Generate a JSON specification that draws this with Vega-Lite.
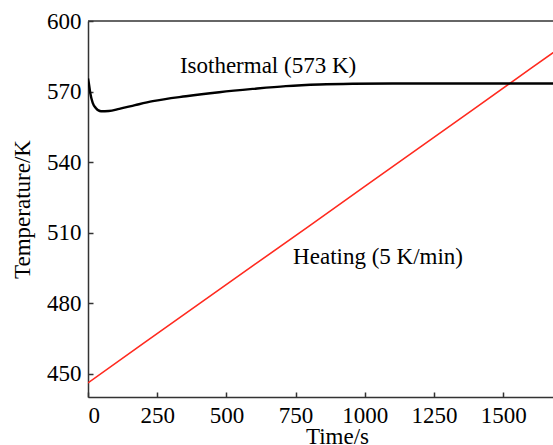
{
  "$schema": "https://vega.github.io/schema/vega-lite/v6.json",
  "width": 465,
  "height": 376,
  "autosize": "none",
  "padding": {"left": 88, "top": 21, "right": 0, "bottom": 48},
  "background": "white",
  "config": {
    "view": {"stroke": null},
    "font": "Liberation Serif",
    "axis": {
      "domainColor": "#333333",
      "domainWidth": 1.5,
      "tickColor": "#333333",
      "tickWidth": 1.5,
      "tickSize": -5,
      "grid": false,
      "labelFont": "Liberation Serif",
      "labelFontSize": 23,
      "labelColor": "black",
      "titleFont": "Liberation Serif",
      "titleFontSize": 23,
      "titleFontWeight": "normal",
      "titleColor": "black"
    }
  },
  "datasets": {
    "iso": [
      {"t": 0, "T": 575.5},
      {"t": 3, "T": 573.5},
      {"t": 8, "T": 569.5},
      {"t": 17, "T": 565.2},
      {"t": 28, "T": 563.0},
      {"t": 47, "T": 561.6},
      {"t": 75, "T": 561.7},
      {"t": 113, "T": 562.6},
      {"t": 170, "T": 564.2},
      {"t": 234, "T": 565.9},
      {"t": 354, "T": 568.0},
      {"t": 474, "T": 569.7},
      {"t": 595, "T": 571.1},
      {"t": 715, "T": 572.3},
      {"t": 836, "T": 573.0},
      {"t": 956, "T": 573.3},
      {"t": 1100, "T": 573.4},
      {"t": 1300, "T": 573.4},
      {"t": 1500, "T": 573.4},
      {"t": 1700, "T": 573.4}
    ],
    "heat": [
      {"t": 0, "T": 446.0},
      {"t": 200, "T": 462.8},
      {"t": 400, "T": 479.5},
      {"t": 600, "T": 496.2},
      {"t": 800, "T": 512.8},
      {"t": 1000, "T": 529.6},
      {"t": 1200, "T": 546.3},
      {"t": 1400, "T": 563.0},
      {"t": 1600, "T": 579.8},
      {"t": 1700, "T": 588.2}
    ],
    "labels": [
      {"t": 332, "T": 577.7, "text": "Isothermal (573 K)"},
      {"t": 741, "T": 496.4, "text": "Heating (5 K/min)"}
    ]
  },
  "layer": [
    {
      "data": {"name": "heat"},
      "mark": {"type": "line", "color": "#ff2a1f", "strokeWidth": 1.6, "clip": true},
      "encoding": {
        "x": {
          "field": "t", "type": "quantitative",
          "scale": {"domain": [0, 1680], "nice": false},
          "axis": {"values": [0, 250, 500, 750, 1000, 1250, 1500], "format": "d", "title": "Time/s", "labelPadding": 12, "titlePadding": -2, "titleX": 249}
        },
        "y": {
          "field": "T", "type": "quantitative",
          "scale": {"domain": [440, 600], "nice": false, "zero": false},
          "axis": {"values": [450, 480, 510, 540, 570, 600], "format": "d", "title": "Temperature/K", "labelPadding": 12, "titlePadding": 12}
        }
      }
    },
    {
      "data": {"name": "iso"},
      "mark": {"type": "line", "color": "black", "strokeWidth": 2.4, "clip": true, "interpolate": "monotone"},
      "encoding": {
        "x": {"field": "t", "type": "quantitative"},
        "y": {"field": "T", "type": "quantitative"}
      }
    },
    {
      "data": {"values": [{"v": 600}]},
      "mark": {"type": "rule", "color": "#333333", "strokeWidth": 1.5},
      "encoding": {"y": {"field": "v", "type": "quantitative"}}
    },
    {
      "data": {"name": "labels"},
      "mark": {"type": "text", "align": "left", "baseline": "alphabetic", "font": "Liberation Serif", "fontSize": 23, "color": "black"},
      "encoding": {
        "x": {"field": "t", "type": "quantitative"},
        "y": {"field": "T", "type": "quantitative"},
        "text": {"field": "text"}
      }
    }
  ]
}
